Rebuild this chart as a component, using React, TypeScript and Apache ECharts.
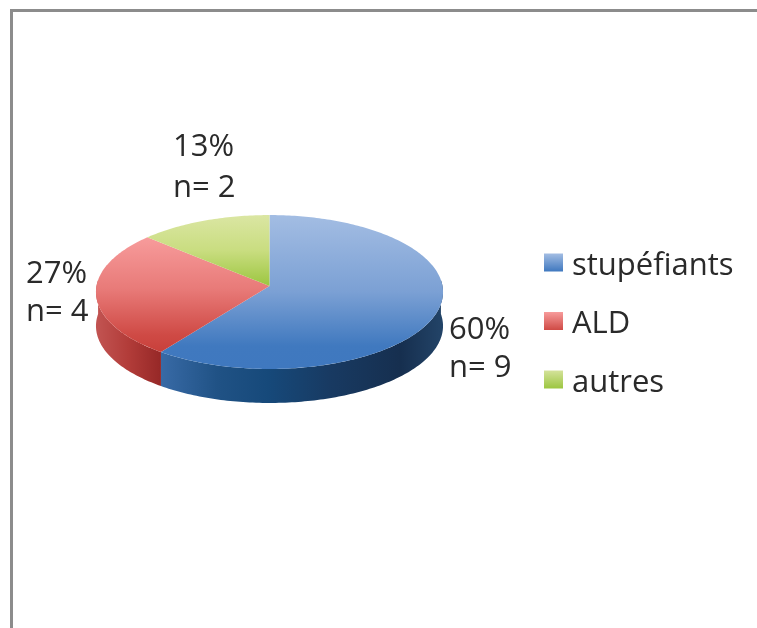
import React, { useEffect, useRef } from "react";
import * as echarts from "echarts";

const categories = ["stupéfiants", "ALD", "autres"];
const counts = [9, 4, 2];
const percents = [60, 27, 13];

const W = 757;
const H = 628;
const FONT = '"Open Sans", "Noto Sans", sans-serif';
const TEXT = "#2a2a2a";
const FONT_SIZE = 31;

// Pie projection (perspective disc)
const CX = 269.5;
const CY = 286;
const RX = 173;
const RY = 76.5;
const K = 0.078;
const DEPTH = 34;
const total = counts.reduce((a, b) => a + b, 0);

const project = (deg: number, dy = 0): number[] => {
  const t = (deg * Math.PI) / 180;
  const u = Math.sin(t);
  const v = -Math.cos(t);
  const w = 1 - K * v;
  return [CX + (RX * u) / w, CY + (RY * v) / w + dy];
};

const arc = (from: number, to: number, dy = 0) => {
  const pts: number[][] = [];
  const n = Math.max(2, Math.ceil(Math.abs(to - from)));
  for (let i = 0; i <= n; i++) pts.push(project(from + ((to - from) * i) / n, dy));
  return pts;
};

const vGrad = (y0: number, y1: number, stops: [number, string][]) => ({
  type: "linear", x: 0, y: y0, x2: 0, y2: y1, global: true,
  colorStops: stops.map(([offset, color]) => ({ offset, color })),
});
const hGrad = (x0: number, x1: number, stops: [number, string][]) => ({
  type: "linear", x: x0, y: 0, x2: x1, y2: 0, global: true,
  colorStops: stops.map(([offset, color]) => ({ offset, color })),
});
const box = (c0: string, c1: string) => ({
  type: "linear", x: 0, y: 0, x2: 0, y2: 1,
  colorStops: [{ offset: 0, color: c0 }, { offset: 1, color: c1 }],
});

const topFills = [
  vGrad(215, 369, [[0, "#a3bde3"], [0.5, "#7ba0d4"], [0.85, "#4079bf"], [1, "#3f78bf"]]),
  vGrad(238, 352, [[0, "#f79b9b"], [0.45, "#e87a78"], [0.85, "#cf4a45"], [1, "#c8403b"]]),
  vGrad(215, 286, [[0, "#dbe6a3"], [0.5, "#c9dd80"], [1, "#9cc640"]]),
];
const sideFills = [
  hGrad(161, 443, [[0, "#386aa6"], [0.2, "#205285"], [0.38, "#16497a"], [0.6, "#183a62"], [0.85, "#162f4f"], [1, "#234468"]]),
  hGrad(96, 161, [[0, "#c25452"], [0.5, "#b23c39"], [1, "#962827"]]),
  "#9cc640",
];
const legendFills = [box("#a3bde3", "#3f78bf"), box("#f79b9b", "#cf4a45"), box("#d4e29a", "#9cc640")];

// Label anchors: [x, y first line, y second line], centre-left aligned
const labelAnchors = [
  [449, 327, 365],
  [26, 271, 309],
  [173, 144, 185],
];

const FRONT_FROM = 85.5;
const FRONT_TO = 274.5;

export default function App() {
  const ref = useRef<HTMLDivElement>(null);
  useEffect(() => {
    const chart = echarts.init(ref.current!, undefined, { renderer: "svg" });
    let cum = 0;
    const spans = counts.map((c) => {
      const s = [(cum / total) * 360, ((cum + c) / total) * 360];
      cum += c;
      return s;
    });
    const series = categories.map((name, i) => ({
      type: "custom",
      name,
      coordinateSystem: "none",
      data: [[counts[i]]],
      itemStyle: { color: legendFills[i] },
      renderItem: (_p: unknown, api: any) => {
        const [a0, a1] = spans[i];
        const value = api.value(0);
        const children: any[] = [];
        const f0 = Math.max(a0, FRONT_FROM);
        const f1 = Math.min(a1, FRONT_TO);
        if (f1 > f0) {
          children.push({
            type: "polygon",
            shape: { points: [...arc(f0, f1), ...arc(f1, f0, DEPTH)] },
            style: { fill: sideFills[i] },
          });
        }
        children.push({
          type: "polygon",
          shape: { points: [[CX, CY], ...arc(a0, a1)] },
          style: { fill: topFills[i] },
        });
        const [lx, ly0, ly1] = labelAnchors[i];
        const font = `${FONT_SIZE}px ${FONT}`;
        children.push(
          { type: "text", style: { text: `${percents[i]}%`, x: lx, y: ly0, fill: TEXT, font, textAlign: "left", textVerticalAlign: "middle" } },
          { type: "text", style: { text: `n= ${value}`, x: lx, y: ly1, fill: TEXT, font, textAlign: "left", textVerticalAlign: "middle" } },
        );
        return { type: "group", children };
      },
    }));
    chart.setOption({
      animation: false,
      backgroundColor: "#ffffff",
      legend: {
        orient: "vertical",
        left: 539,
        top: 242,
        icon: "rect",
        itemWidth: 19,
        itemHeight: 18,
        itemGap: 27.5,
        data: categories.map((name, i) => ({ name, itemStyle: { color: legendFills[i] } })),
        textStyle: { fontFamily: FONT, fontSize: FONT_SIZE, lineHeight: 30, color: TEXT, padding: [0, 0, 0, 4] },
        selectedMode: false,
      },
      graphic: [
        { type: "rect", shape: { x: 10, y: 9, width: W - 10, height: 3 }, style: { fill: "#8c8c8c" }, silent: true },
        { type: "rect", shape: { x: 10, y: 9, width: 3, height: H - 9 }, style: { fill: "#8c8c8c" }, silent: true },
      ],
      series,
    });
    return () => chart.dispose();
  }, []);
  return (
    <div
      ref={ref}
      style={{ position: "absolute", left: 0, top: 0, width: W, height: H, filter: "blur(0.5px)" }}
    />
  );
}
